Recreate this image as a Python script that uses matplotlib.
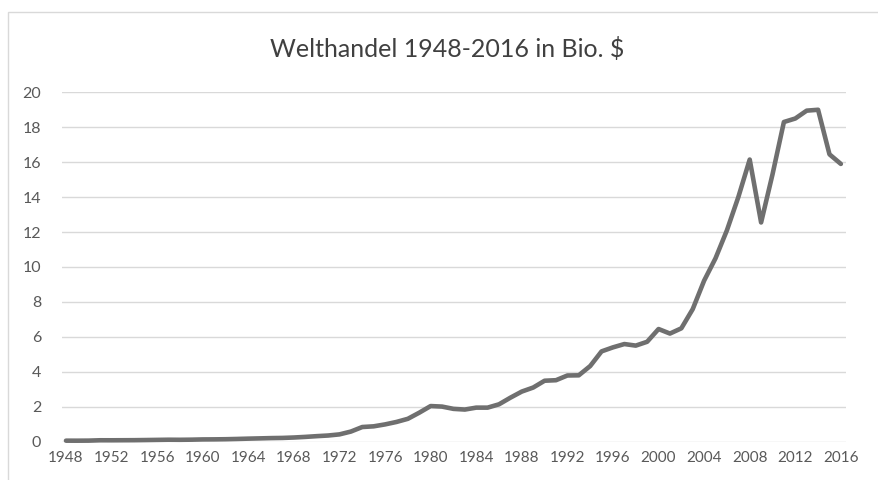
import matplotlib.pyplot as plt
from matplotlib.patches import Rectangle

# Welthandel (Warenexporte) in Billionen US-$
years = list(range(1948, 2017))
trade = [
    0.059, 0.058, 0.062, 0.082, 0.081, 0.084, 0.087, 0.095, 0.104, 0.113,  # 1948-1957
    0.109, 0.116, 0.130, 0.134, 0.142, 0.157, 0.175, 0.190, 0.206, 0.216,  # 1958-1967
    0.240, 0.275, 0.317, 0.354, 0.419, 0.580, 0.840, 0.880, 0.990, 1.130,  # 1968-1977
    1.310, 1.660, 2.040, 2.010, 1.880, 1.840, 1.950, 1.950, 2.140, 2.520,  # 1978-1987
    2.870, 3.100, 3.490, 3.520, 3.790, 3.800, 4.330, 5.170, 5.400, 5.590,  # 1988-1997
    5.500, 5.720, 6.450, 6.190, 6.490, 7.590, 9.220, 10.50, 12.10, 14.00,  # 1998-2007
    16.15, 12.55, 15.30, 18.30, 18.50, 18.95, 19.00, 16.45, 15.90,         # 2008-2016
]
x_ticks = list(range(1948, 2017, 4))
y_ticks = list(range(0, 21, 2))
title = "Welthandel 1948-2016 in Bio. $"

FONT = ["Lato", "DejaVu Sans"]
TEXT_COLOR = "#595959"

fig = plt.figure(figsize=(8.79, 4.8), dpi=100)

# heller Rahmen um den Diagrammbereich (rechts/unten abgeschnitten)
fig.patches.append(Rectangle((8 / 879, -0.1), 1.2, 1.1 - 12 / 480,
                             transform=fig.transFigure, fill=False,
                             edgecolor="#d9d9d9", linewidth=1.0))

ax = fig.add_axes([62 / 879, 38.3 / 480, 784 / 879, 349.4 / 480])
ax.plot(years, trade, color="#6f6f6f", linewidth=3.3,
        solid_joinstyle="round", solid_capstyle="round", clip_on=False)

ax.set_xlim(1947.65, 2016.45)
ax.set_ylim(0, 20)
ax.set_xticks(x_ticks)
ax.set_yticks(y_ticks)
ax.set_xticklabels([str(t) for t in x_ticks], family=FONT, fontsize=11, color=TEXT_COLOR)
ax.set_yticklabels([str(t) for t in y_ticks], family=FONT, fontsize=11.5, color=TEXT_COLOR)
ax.tick_params(axis="both", length=0)
ax.tick_params(axis="x", pad=7)
ax.tick_params(axis="y", pad=15)

ax.grid(axis="y", color="#d9d9d9", linewidth=1.0)
ax.set_axisbelow(True)
for side in ax.spines.values():
    side.set_visible(False)

fig.text(447 / 879, 1 - 49 / 480, title, ha="center", va="center",
         family=FONT, fontsize=18, color="#404040")

fig.savefig("out.png", dpi=100)
